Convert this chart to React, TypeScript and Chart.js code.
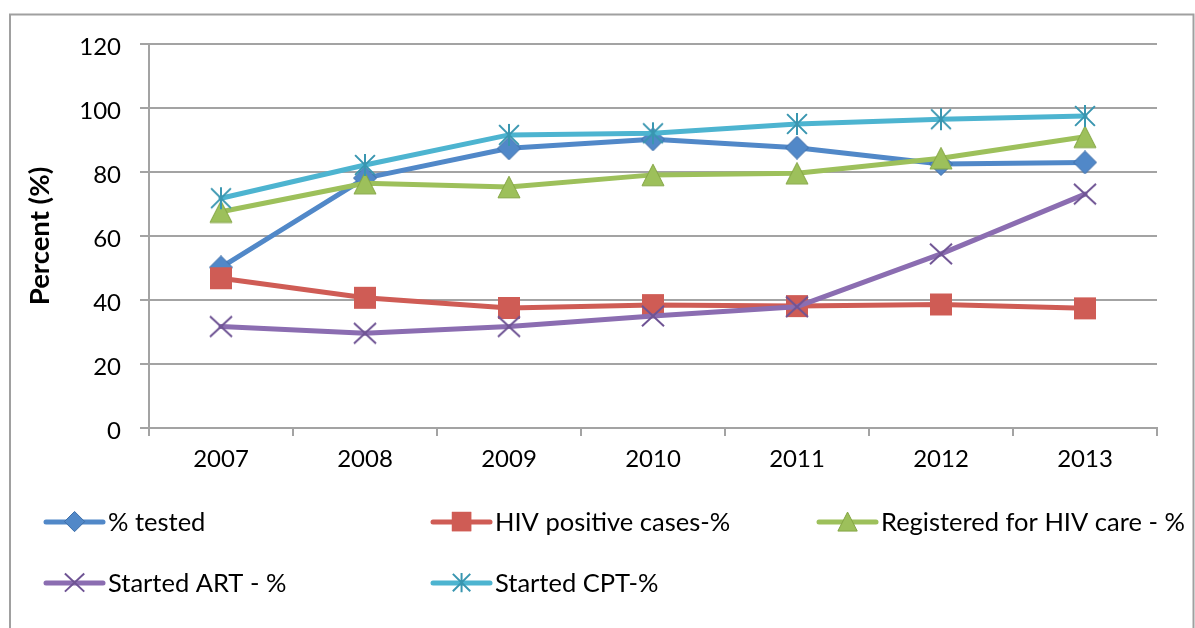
import React, { useEffect, useRef } from 'react';
import { Chart, registerables } from 'chart.js';

Chart.register(...registerables);

// ---- data ----
const categories = ['2007', '2008', '2009', '2010', '2011', '2012', '2013'];
const seriesNames = [
  '% tested',
  'HIV positive cases-%',
  'Registered for HIV care - %',
  'Started ART - %',
  'Started CPT-%',
];
const tested = [50.2, 78.1, 87.4, 90.2, 87.6, 82.5, 83.0];
const hivPositive = [46.8, 40.7, 37.5, 38.4, 38.1, 38.6, 37.4];
const registered = [67.6, 76.5, 75.3, 79.1, 79.6, 84.3, 91.0];
const startedART = [31.7, 29.6, 31.7, 35.0, 37.9, 54.4, 73.1];
const startedCPT = [71.8, 82.2, 91.6, 92.1, 95.0, 96.5, 97.5];
const yTickValues = [0, 20, 40, 60, 80, 100, 120];

// ---- styles ----
const FONT = 'Lato';
const seriesColors = ['#5188C8', '#CF5C55', '#9DC05B', '#8B6DB1', '#4DB4D0'];
const markerBorders = ['#3F6FA8', '#B4443E', '#84A544', '#6F5494', '#3996B0'];
const markerKinds = ['diamond', 'square', 'triangle', 'x', 'star'];
const GRID = '#a3a3a3';

function makeMarker(kind: string, fill: string, stroke: string, scale = 1): HTMLCanvasElement {
  const s = 24 * scale;
  const c = document.createElement('canvas');
  c.width = Math.ceil(s);
  c.height = Math.ceil(s);
  const ctx = c.getContext('2d')!;
  const m = s / 2;
  ctx.fillStyle = fill;
  ctx.strokeStyle = stroke;
  ctx.lineWidth = 1;
  if (kind === 'diamond') {
    const h = 11.5 * scale;
    ctx.beginPath();
    ctx.moveTo(m, m - h);
    ctx.lineTo(m + h, m);
    ctx.lineTo(m, m + h);
    ctx.lineTo(m - h, m);
    ctx.closePath();
    ctx.fill();
    ctx.stroke();
  } else if (kind === 'square') {
    const h = 11 * scale;
    ctx.fillRect(m - h, m - h, 2 * h, 2 * h);
    ctx.strokeStyle = fill;
    ctx.strokeRect(m - h + 0.5, m - h + 0.5, 2 * h - 1, 2 * h - 1);
  } else if (kind === 'triangle') {
    const hw = 11 * scale;
    const hh = 10.8 * scale;
    ctx.beginPath();
    ctx.moveTo(m, m - hh);
    ctx.lineTo(m + hw, m + hh);
    ctx.lineTo(m - hw, m + hh);
    ctx.closePath();
    ctx.fill();
    ctx.stroke();
  } else if (kind === 'x') {
    const hw = 11 * scale;
    const hh = 10.3 * scale;
    ctx.strokeStyle = stroke;
    ctx.lineWidth = 2;
    ctx.beginPath();
    ctx.moveTo(m - hw, m - hh);
    ctx.lineTo(m + hw, m + hh);
    ctx.moveTo(m + hw, m - hh);
    ctx.lineTo(m - hw, m + hh);
    ctx.stroke();
  } else if (kind === 'star') {
    const h = 11 * scale;
    ctx.strokeStyle = stroke;
    ctx.lineWidth = 2;
    ctx.beginPath();
    ctx.moveTo(m - h * 0.9, m - h * 0.9);
    ctx.lineTo(m + h * 0.9, m + h * 0.9);
    ctx.moveTo(m + h * 0.9, m - h * 0.9);
    ctx.lineTo(m - h * 0.9, m + h * 0.9);
    ctx.moveTo(m, m - h);
    ctx.lineTo(m, m + h);
    ctx.stroke();
  }
  return c;
}

const legendPositions = [
  { x: 46, y: 522 },
  { x: 433, y: 522 },
  { x: 819, y: 522 },
  { x: 46, y: 583 },
  { x: 433, y: 583 },
];

export default function App() {
  const ref = useRef<HTMLCanvasElement>(null);

  useEffect(() => {
    const canvas = ref.current!;
    const seriesData = [tested, hivPositive, registered, startedART, startedCPT];
    const markers = seriesColors.map((c, i) => makeMarker(markerKinds[i], c, markerBorders[i]));
    const legendMarkers = seriesColors.map((c, i) => makeMarker(markerKinds[i], c, markerBorders[i], 0.88));

    const framePlugin = {
      id: 'frame',
      beforeDraw(chart: any) {
        const ctx = chart.ctx;
        ctx.save();
        ctx.fillStyle = '#ffffff';
        ctx.fillRect(0, 0, chart.width, chart.height);
        ctx.strokeStyle = '#a0a0a0';
        ctx.lineWidth = 2;
        ctx.strokeRect(10, 14.5, 1183.5, 700);
        ctx.restore();
      },
    };

    const legendPlugin = {
      id: 'customLegend',
      afterDraw(chart: any) {
        const ctx = chart.ctx;
        ctx.save();
        seriesNames.forEach((name, i) => {
          const p = legendPositions[i];
          ctx.strokeStyle = seriesColors[i];
          ctx.lineWidth = 5;
          ctx.lineCap = 'round';
          ctx.beginPath();
          ctx.moveTo(p.x, p.y);
          ctx.lineTo(p.x + 57, p.y);
          ctx.stroke();
          const mk = legendMarkers[i];
          ctx.drawImage(mk, p.x + 29 - mk.width / 2, p.y - mk.height / 2);
          ctx.fillStyle = '#000000';
          ctx.font = `25.5px ${FONT}`;
          ctx.textBaseline = 'middle';
          ctx.textAlign = 'left';
          ctx.fillText(name, p.x + 62, p.y + 1);
        });
        ctx.restore();
      },
    };

    const datasets = seriesNames.map((name, i) => ({
      label: name,
      data: seriesData[i],
      borderColor: seriesColors[i],
      backgroundColor: seriesColors[i],
      borderWidth: 5,
      borderJoinStyle: 'round' as const,
      borderCapStyle: 'round' as const,
      tension: 0,
      pointStyle: markers[i],
      pointRadius: 11,
      pointHoverRadius: 11,
      order: seriesNames.length - 1 - i,
    }));

    const chart = new Chart(canvas, {
      type: 'line',
      data: { labels: categories, datasets },
      options: {
        animation: false,
        responsive: false,
        maintainAspectRatio: false,
        events: [],
        layout: { padding: { left: 0, top: 44, right: 38, bottom: 150 } },
        plugins: {
          legend: { display: false },
          tooltip: { enabled: false },
          title: { display: false },
        },
        scales: {
          x: {
            type: 'category',
            offset: true,
            grid: {
              offset: true,
              drawOnChartArea: false,
              drawTicks: true,
              tickLength: 8,
              color: GRID,
              lineWidth: 2,
            },
            border: { display: true, color: GRID, width: 2 },
            ticks: {
              color: '#000000',
              font: { family: FONT, size: 24 },
              padding: 9,
              maxRotation: 0,
              autoSkip: false,
            },
            afterFit(scale: any) {
              scale.height = 50;
            },
          },
          y: {
            min: 0,
            max: 120,
            afterBuildTicks(scale: any) {
              scale.ticks = yTickValues.map((v) => ({ value: v }));
            },
            grid: {
              color: GRID,
              lineWidth: 2,
              drawTicks: true,
              tickLength: 9,
            },
            border: { display: true, color: GRID, width: 2 },
            ticks: {
              color: '#000000',
              font: { family: FONT, size: 24 },
              padding: 19,
              labelOffset: 3,
            },
            title: {
              display: true,
              text: 'Percent (%)',
              color: '#000000',
              font: { family: FONT, size: 27.5, weight: 'bold' },
              padding: { top: 24, bottom: 0 },
            },
            afterFit(scale: any) {
              scale.width = 149;
            },
          },
        },
      },
      plugins: [framePlugin, legendPlugin],
    });

    return () => chart.destroy();
  }, []);

  return (
    <div style={{ position: 'fixed', left: 0, top: 0, width: 1195, height: 628, background: '#fff' }}>
      <canvas ref={ref} width={1195} height={628} style={{ width: 1195, height: 628, display: 'block' }} />
    </div>
  );
}
